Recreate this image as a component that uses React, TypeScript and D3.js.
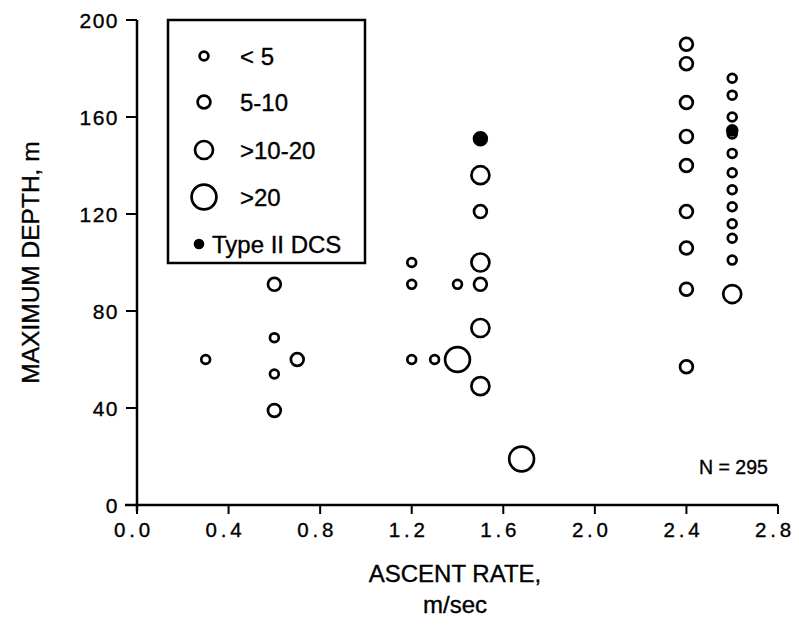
import React from "react";
import * as d3 from "d3";

// Data (ascent rate m/sec, maximum depth m, size class index)
const xs = [0.3, 0.6, 0.6, 0.6, 0.6, 0.7, 1.2, 1.2, 1.2, 1.3, 1.4, 1.4, 1.5, 1.5, 1.5, 1.5, 1.5, 1.5, 1.5, 1.68,
  2.4, 2.4, 2.4, 2.4, 2.4, 2.4, 2.4, 2.4, 2.4,
  2.6, 2.6, 2.6, 2.6, 2.6, 2.6, 2.6, 2.6, 2.6, 2.6, 2.6, 2.6];
const depths = [60, 91, 69, 54, 39, 60, 100, 91, 60, 60, 91, 60, 151, 136, 121, 100, 91, 73, 49, 19,
  190, 182, 166, 152, 140, 121, 106, 89, 57,
  176, 169, 160, 153, 145, 137, 130, 123, 116, 110, 101, 87];
const sizeClass = [0, 1, 0, 0, 1, 1, 0, 0, 0, 0, 0, 3, 1, 2, 1, 2, 1, 2, 2, 3,
  1, 1, 1, 1, 1, 1, 1, 1, 1,
  0, 0, 0, 0, 0, 0, 0, 0, 0, 0, 0, 2];
// Type II DCS cases (filled)
const dcsX = [1.5, 2.6];
const dcsDepth = [151, 154.5];

const sizeLabels = ["< 5", "5-10", ">10-20", ">20"];
const dcsLabel = "Type II DCS";
const xTicks = [0, 0.4, 0.8, 1.2, 1.6, 2.0, 2.4, 2.8];
const yTicks = [0, 40, 80, 120, 160, 200];
const note = "N = 295";

export default function App() {
  const W = 799, H = 638;
  const x = d3.scaleLinear().domain([0, 2.8]).range([137, 778]);
  const y = d3.scaleLinear().domain([0, 200]).range([505, 20]);
  const r = d3.scaleOrdinal<number, number>().domain([0, 1, 2, 3]).range([4.4, 6.4, 9, 12.4]);
  const font = "'Liberation Sans', Arial, Helvetica, sans-serif";
  const legendRows = [56, 102, 150, 197];
  const ts = { stroke: "#000", strokeWidth: 0.35 };
  return (
    <svg width={W} height={H} style={{ position: "absolute", left: 0, top: 0, background: "#fff" }}
      fontFamily={font}>
      {/* axes */}
      <line x1={x(0)} x2={x(0)} y1={y(200)} y2={y(0) + 6} stroke="#000" strokeWidth={2.5} />
      <line x1={x(0) - 12} x2={x(2.8)} y1={y(0)} y2={y(0)} stroke="#000" strokeWidth={2.5} />
      {yTicks.map((t) => (
        <g key={"y" + t}>
          <line x1={x(0) - 11} x2={x(0)} y1={y(t)} y2={y(t)} stroke="#000" strokeWidth={2} />
          <text x={x(0) - 18} y={y(t)} dy="0.36em" textAnchor="end" fontSize={21} letterSpacing={1.5} {...ts}>{t}</text>
        </g>
      ))}
      {xTicks.map((t) => (
        <g key={"x" + t}>
          <line x1={x(t)} x2={x(t)} y1={y(0)} y2={y(0) + 9} stroke="#000" strokeWidth={2} />
          <text x={x(t) - 3} y={y(0) + 32} textAnchor="middle" fontSize={20.5} letterSpacing={3.8} {...ts}>{t.toFixed(1)}</text>
        </g>
      ))}
      <text transform={`translate(39,${(y(0) + y(200)) / 2}) rotate(-90)`} textAnchor="middle" fontSize={24.5} {...ts}>MAXIMUM DEPTH, m</text>
      <text x={455} y={582} textAnchor="middle" fontSize={24} {...ts}>ASCENT RATE,</text>
      <text x={455} y={613} textAnchor="middle" fontSize={24} {...ts}>m/sec</text>
      <text x={699} y={474} fontSize={19.5} {...ts}>{note}</text>

      {/* points */}
      {xs.map((v, i) => (
        <circle key={"p" + i} cx={x(v)} cy={y(depths[i])} r={r(sizeClass[i])} fill="none" stroke="#000" strokeWidth={2.7} />
      ))}
      {dcsX.map((v, i) => (
        <circle key={"d" + i} cx={x(v)} cy={y(dcsDepth[i])} r={6.3} fill="#000" />
      ))}

      {/* legend */}
      <rect x={168} y={20} width={197} height={243} fill="#fff" stroke="#000" strokeWidth={2.5} />
      {sizeLabels.map((s, i) => (
        <g key={"l" + i}>
          <circle cx={204} cy={legendRows[i]} r={r(i)} fill="none" stroke="#000" strokeWidth={2.7} />
          <text x={240} y={legendRows[i]} dy="0.36em" fontSize={24} {...ts}>{s}</text>
        </g>
      ))}
      <circle cx={199} cy={244} r={5.3} fill="#000" />
      <text x={212} y={244} dy="0.36em" fontSize={24} {...ts}>{dcsLabel}</text>
    </svg>
  );
}
